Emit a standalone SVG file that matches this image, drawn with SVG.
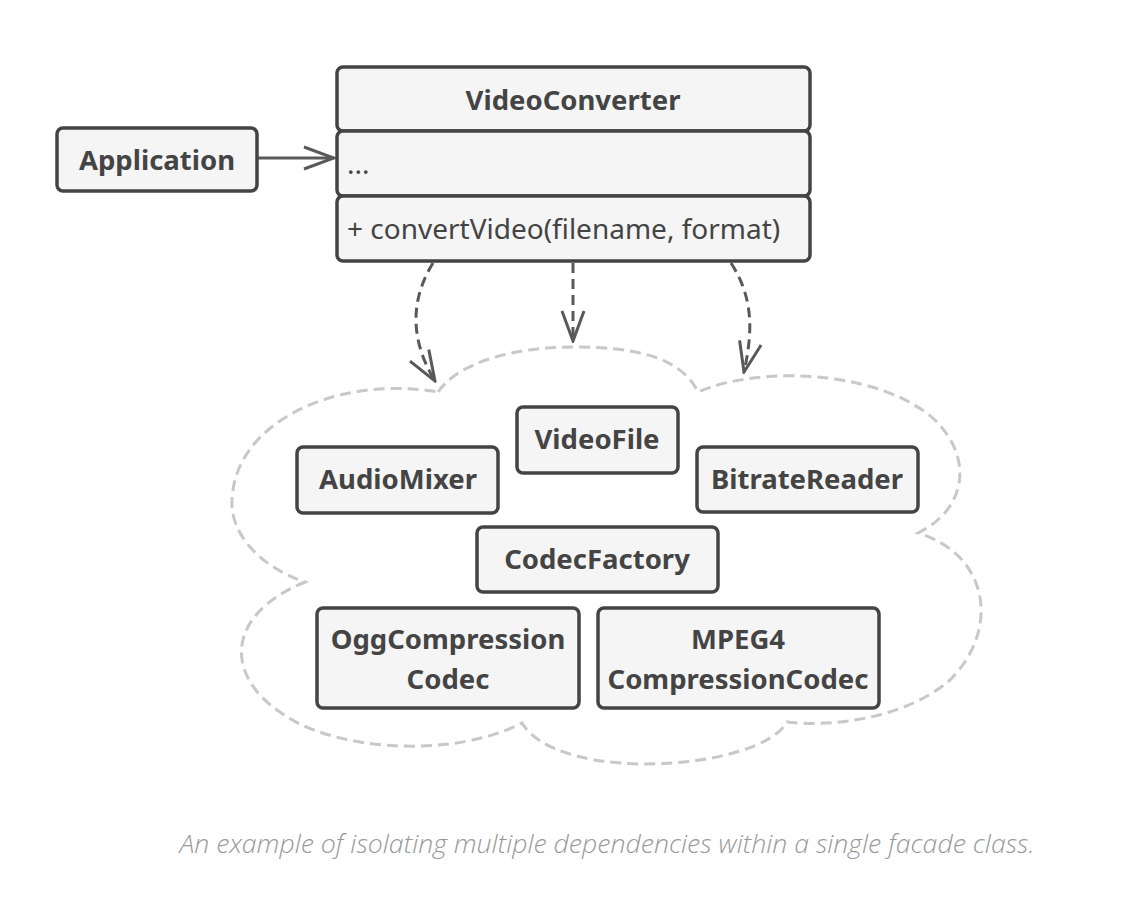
<svg xmlns="http://www.w3.org/2000/svg" width="1142" height="906" viewBox="0 0 1142 906">
<defs>
<style>
.box{fill:#f5f5f5;stroke:#444;stroke-width:3.5}
.t{font-family:"Noto Sans","Open Sans","Liberation Sans",sans-serif;font-weight:bold;font-size:27.5px;fill:#444;text-anchor:middle}
.m{font-family:"Noto Sans","Open Sans","Liberation Sans",sans-serif;font-size:28px;fill:#444}
.dep{fill:none;stroke:#595959;stroke-width:3;stroke-dasharray:10 6}
.cloud{fill:none;stroke:#c8c8c8;stroke-width:3;stroke-dasharray:11 6}
.cap{font-family:"Open Sans","Noto Sans","Liberation Sans",sans-serif;font-style:italic;font-weight:300;font-size:25px;fill:#999;text-anchor:middle}
</style>
<marker id="open" viewBox="0 0 34 26" refX="32" refY="13" markerWidth="34" markerHeight="26" markerUnits="userSpaceOnUse" orient="auto">
<path d="M2,2 L32,13 L2,24" fill="none" stroke="#595959" stroke-width="3"/>
</marker>
</defs>
<rect width="1142" height="906" fill="#fff"/>
<path class="cloud" d="M438,392 C460,360 520,347 573,347 C630,347 680,355 698,392 C760,365 880,370 935,420 C975,460 965,510 918,533 C990,555 1000,630 950,680 C910,715 840,728 787,722 C760,770 560,785 522,723 C450,760 330,750 280,712 C225,675 225,615 305,582 C255,565 230,530 232,500 C235,420 340,375 438,392 Z"/>
<g id="connectors">
<line x1="258" y1="158" x2="334" y2="158" stroke="#595959" stroke-width="3" marker-end="url(#open)"/>
<path class="dep" d="M433,263 C410,300 410,340 435,381" marker-end="url(#open)"/>
<path class="dep" d="M573,263 L573,341" marker-end="url(#open)"/>
<path class="dep" d="M731,263 C755,300 752,335 744,372" marker-end="url(#open)"/>
</g>
<g id="application">
<rect class="box" x="57" y="128" width="200" height="63" rx="6"/>
<text class="t" x="157" y="170">Application</text>
</g>
<g id="videoconverter">
<rect class="box" x="337" y="67" width="473" height="64" rx="6"/>
<rect class="box" x="337" y="131" width="473" height="65" rx="6"/>
<rect class="box" x="337" y="196" width="473" height="65" rx="6"/>
<text class="t" x="573" y="110">VideoConverter</text>
<text class="m" x="347" y="174">...</text>
<text class="m" x="347" y="239">+ convertVideo(filename, format)</text>
</g>
<g id="audiomixer">
<rect class="box" x="297" y="447" width="201" height="66" rx="6"/>
<text class="t" x="398" y="489">AudioMixer</text>
</g>
<g id="videofile">
<rect class="box" x="517" y="407" width="161" height="66" rx="6"/>
<text class="t" x="597" y="449">VideoFile</text>
</g>
<g id="bitratereader">
<rect class="box" x="697" y="447" width="221" height="65" rx="6"/>
<text class="t" x="807" y="489">BitrateReader</text>
</g>
<g id="codecfactory">
<rect class="box" x="477" y="527" width="241" height="65" rx="6"/>
<text class="t" x="597" y="569">CodecFactory</text>
</g>
<g id="oggcodec">
<rect class="box" x="317" y="608" width="262" height="100" rx="6"/>
<text class="t" x="448" y="649">OggCompression</text>
<text class="t" x="448" y="689">Codec</text>
</g>
<g id="mpeg4codec">
<rect class="box" x="598" y="608" width="281" height="100" rx="6"/>
<text class="t" x="738" y="649">MPEG4</text>
<text class="t" x="738" y="689">CompressionCodec</text>
</g>
<text class="cap" x="607" y="853" textLength="855" lengthAdjust="spacingAndGlyphs">An example of isolating multiple dependencies within a single facade class.</text>
</svg>
